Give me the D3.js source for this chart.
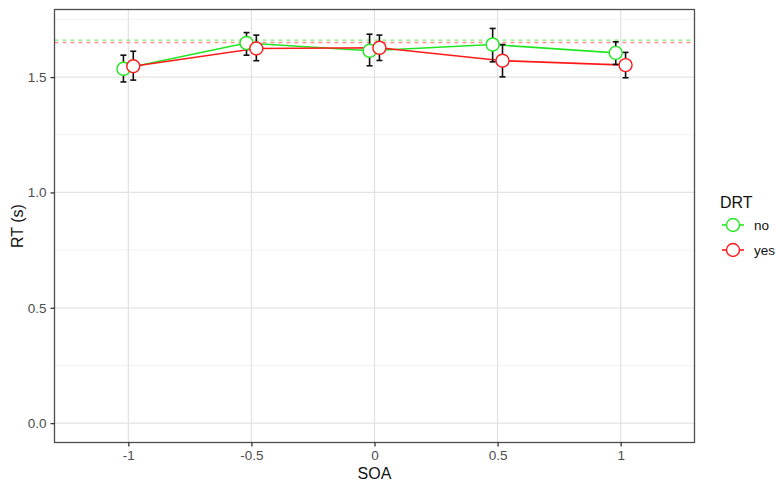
<!DOCTYPE html>
<html>
<head>
<meta charset="utf-8">
<script src="https://cdn.jsdelivr.net/npm/d3@7"></script>
<style>
  body { margin: 0; background: #fff; }
  text { font-family: "Liberation Sans", Arial, sans-serif; }
</style>
</head>
<body>
<script>
//----------------------------------------------------------------------
// data
var soaLevels = [-1, -0.5, 0, 0.5, 1];
var groups    = ["no", "yes"];
var rtNo      = [1.536, 1.648, 1.614, 1.641, 1.605];
var rtYes     = [1.547, 1.624, 1.627, 1.571, 1.552];
var loNo      = [1.479, 1.595, 1.549, 1.566, 1.555];
var hiNo      = [1.595, 1.693, 1.686, 1.711, 1.653];
var loYes     = [1.487, 1.571, 1.572, 1.501, 1.497];
var hiYes     = [1.612, 1.682, 1.682, 1.641, 1.607];
var refLines  = [1.660, 1.650];   // dashed overall means: no, yes
var xTicks    = [-1, -0.5, 0, 0.5, 1];
var xTickText = ["-1", "-0.5", "0", "0.5", "1"];
var yTicks    = [0, 0.5, 1, 1.5];
var yMinor    = [0.25, 0.75, 1.25, 1.75];
var dodge     = [-0.02, 0.02];
//----------------------------------------------------------------------
var W = 776, H = 482;
var pL = 54.5, pR = 694.5, pT = 9.5, pB = 442.5;
var colors = {no: "#22e622", yes: "#ff1a1a"};
var lightColors = {no: "#80f080", yes: "#ff9090"};

var svg = d3.select("body").append("svg")
            .attr("width", W).attr("height", H);

var x = d3.scaleLinear().domain([-1.3, 1.3]).range([pL, pR]);
var y = d3.scaleLinear().domain([-0.084, 1.793]).range([pB, pT]);

// grid
svg.append("g").selectAll("line").data(yMinor).enter().append("line")
   .attr("x1", pL).attr("x2", pR)
   .attr("y1", function(d){return y(d);}).attr("y2", function(d){return y(d);})
   .attr("stroke", "#f0f0f0").attr("stroke-width", 0.8);
svg.append("g").selectAll("line").data(yTicks).enter().append("line")
   .attr("x1", pL).attr("x2", pR)
   .attr("y1", function(d){return y(d);}).attr("y2", function(d){return y(d);})
   .attr("stroke", "#e3e3e3").attr("stroke-width", 1.3);
svg.append("g").selectAll("line").data(xTicks).enter().append("line")
   .attr("y1", pT).attr("y2", pB)
   .attr("x1", function(d){return x(d);}).attr("x2", function(d){return x(d);})
   .attr("stroke", "#e3e3e3").attr("stroke-width", 1.3);

// dashed reference lines
svg.append("g").selectAll("line").data(refLines).enter().append("line")
   .attr("x1", pL).attr("x2", pR)
   .attr("y1", function(d){return y(d);}).attr("y2", function(d){return y(d);})
   .attr("stroke", function(d,i){return lightColors[groups[i]];})
   .attr("stroke-width", 1.3)
   .attr("stroke-dasharray", "4,4");

var series = [
  {key: "no",  mean: rtNo,  lo: loNo,  hi: hiNo},
  {key: "yes", mean: rtYes, lo: loYes, hi: hiYes}
];

var line = d3.line()
             .x(function(d){return x(d.x);})
             .y(function(d){return y(d.y);});

series.forEach(function(s, si){
  var pts = soaLevels.map(function(v, i){
    return {x: v + dodge[si], y: s.mean[i], lo: s.lo[i], hi: s.hi[i]};
  });
  s.pts = pts;
  svg.append("path").datum(pts)
     .attr("d", line).attr("fill", "none")
     .attr("stroke", colors[s.key]).attr("stroke-width", 1.6);
});

// error bars
series.forEach(function(s){
  var g = svg.append("g").attr("stroke", "#111").attr("stroke-width", 1.6);
  s.pts.forEach(function(p){
    var cx = x(p.x);
    g.append("line").attr("x1", cx).attr("x2", cx)
     .attr("y1", y(p.lo)).attr("y2", y(p.hi));
    g.append("line").attr("x1", cx - 3).attr("x2", cx + 3)
     .attr("y1", y(p.lo)).attr("y2", y(p.lo));
    g.append("line").attr("x1", cx - 3).attr("x2", cx + 3)
     .attr("y1", y(p.hi)).attr("y2", y(p.hi));
  });
});

// points
series.forEach(function(s){
  svg.append("g").selectAll("circle").data(s.pts).enter().append("circle")
     .attr("cx", function(d){return x(d.x);})
     .attr("cy", function(d){return y(d.y);})
     .attr("r", 6.5)
     .attr("fill", "#fff")
     .attr("stroke", colors[s.key]).attr("stroke-width", 1.4);
});

// panel border
svg.append("rect")
   .attr("x", pL).attr("y", pT).attr("width", pR - pL).attr("height", pB - pT)
   .attr("fill", "none").attr("stroke", "#4d4d4d").attr("stroke-width", 1.3);

// axes
var xAxis = d3.axisBottom(x).tickValues(xTicks).tickSize(4).tickPadding(4)
              .tickFormat(function(d,i){return xTickText[i];});
var gx = svg.append("g").attr("transform", "translate(0," + pB + ")").call(xAxis);
var yAxis = d3.axisLeft(y).tickValues(yTicks).tickSize(4).tickPadding(4)
              .tickFormat(d3.format(".1f"));
var gy = svg.append("g").attr("transform", "translate(" + pL + ",0)").call(yAxis);
[gx, gy].forEach(function(g){
  g.select(".domain").remove();
  g.selectAll(".tick line").attr("stroke", "#333").attr("stroke-width", 1.3);
  g.selectAll(".tick text").attr("fill", "#4d4d4d")
   .style("font-size", "13.5px").style("font-family", "Liberation Sans, Arial, sans-serif");
});

svg.append("text").attr("x", (pL + pR) / 2).attr("y", 479)
   .attr("text-anchor", "middle").style("font-size", "16px").attr("fill", "#111")
   .text("SOA");
svg.append("text")
   .attr("transform", "translate(23," + ((pT + pB) / 2) + ") rotate(-90)")
   .attr("text-anchor", "middle").style("font-size", "16px").attr("fill", "#111")
   .text("RT (s)");

// legend
var lg = svg.append("g").attr("transform", "translate(720,0)");
lg.append("text").attr("x", 0).attr("y", 208)
  .style("font-size", "16px").attr("fill", "#111").text("DRT");
groups.forEach(function(k, i){
  var ly = 225 + i * 25;
  lg.append("line").attr("x1", 2).attr("x2", 24).attr("y1", ly).attr("y2", ly)
    .attr("stroke", colors[k]).attr("stroke-width", 1.6);
  lg.append("circle").attr("cx", 13).attr("cy", ly).attr("r", 6.5)
    .attr("fill", "#fff").attr("stroke", colors[k]).attr("stroke-width", 1.4);
  lg.append("text").attr("x", 34).attr("y", ly + 5)
    .style("font-size", "13.5px").attr("fill", "#111").text(k);
});
</script>
</body>
</html>
